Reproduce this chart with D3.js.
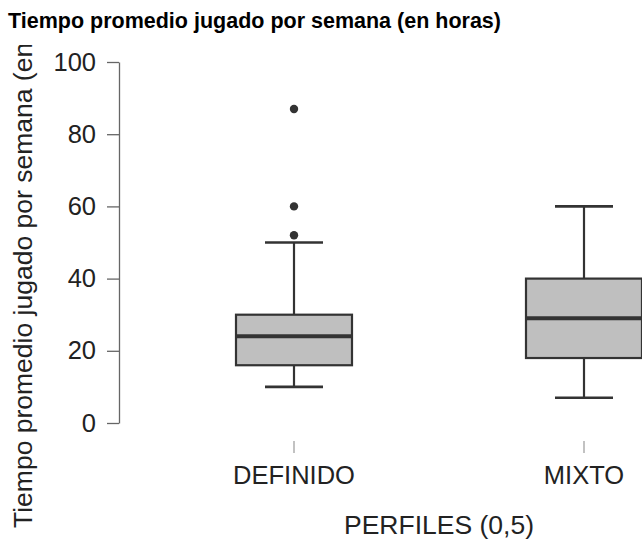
<!DOCTYPE html>
<html>
<head>
<meta charset="utf-8">
<script src="https://cdn.jsdelivr.net/npm/d3@7"></script>
<style>
  html, body { margin: 0; padding: 0; background: #fff; }
  svg { display: block; }
</style>
</head>
<body>
<svg id="chart" width="642" height="542"></svg>
<script>
// Weekly hours played, by profile group
const categories = ["DEFINIDO", "MIXTO"];
const lowerWhisker = [10, 7];
const q1 = [16, 18];
const median = [24, 29];
const q3 = [30, 40];
const upperWhisker = [50, 60];
const outliers = [[52, 60, 87], []];
const yTicks = [0, 20, 40, 60, 80, 100];

const titleText = "Tiempo promedio jugado por semana (en horas)";
const yLabel = "Tiempo promedio jugado por semana (en horas)";
const xLabel = "PERFILES (0,5)";

const boxes = categories.map((c, i) => ({
  cat: c, lo: lowerWhisker[i], q1: q1[i], med: median[i], q3: q3[i], hi: upperWhisker[i], out: outliers[i]
}));

const svg = d3.select("#chart");
const font = "'Liberation Sans', Arial, sans-serif";
const ink = "#333";

const y = d3.scaleLinear().domain([0, 100]).range([423, 62]);
const x = d3.scaleBand().domain(categories).range([149, 729]).paddingInner(0.6).paddingOuter(0.3);
const bw = x.bandwidth();
const cx = d => x(d) + bw / 2;

// Title
svg.append("text")
  .attr("x", 8).attr("y", 28)
  .attr("font-family", font).attr("font-weight", "bold").attr("font-size", 21.5)
  .attr("fill", "#000")
  .text(titleText);

// Y axis
const yAxis = svg.append("g")
  .attr("transform", "translate(119,0)")
  .call(d3.axisLeft(y).tickValues(yTicks).tickSize(12).tickPadding(11).tickSizeOuter(0));
yAxis.select(".domain").attr("stroke", "#666").attr("stroke-width", 1.3);
yAxis.selectAll(".tick line").attr("stroke", "#666").attr("stroke-width", 1.3);
yAxis.selectAll(".tick text")
  .attr("font-family", font).attr("font-size", 25.5).attr("fill", "#222");

// X axis (ticks only, no baseline)
const xAxis = svg.append("g")
  .attr("transform", "translate(0,441)")
  .call(d3.axisBottom(x).tickSize(12).tickPadding(13).tickSizeOuter(0));
xAxis.select(".domain").remove();
xAxis.selectAll(".tick line").attr("stroke", "#999").attr("stroke-width", 1.2);
xAxis.selectAll(".tick text")
  .attr("font-family", font).attr("font-size", 25.5).attr("fill", "#222");

// Axis titles
svg.append("text")
  .attr("x", 439).attr("y", 534)
  .attr("text-anchor", "middle")
  .attr("font-family", font).attr("font-size", 26.5).attr("fill", "#222")
  .text(xLabel);

svg.append("clipPath").attr("id", "ylab-clip")
  .append("rect").attr("x", 0).attr("y", 45).attr("width", 60).attr("height", 497);
svg.append("g").attr("clip-path", "url(#ylab-clip)")
  .append("text")
  .attr("transform", "translate(32,528) rotate(-90)")
  .attr("font-family", font).attr("font-size", 26.5).attr("fill", "#222")
  .text(yLabel);

// Boxplots
const g = svg.append("g").selectAll("g").data(boxes).join("g");

g.append("line")
  .attr("x1", d => cx(d.cat)).attr("x2", d => cx(d.cat))
  .attr("y1", d => y(d.hi)).attr("y2", d => y(d.q3))
  .attr("stroke", ink).attr("stroke-width", 2.2);
g.append("line")
  .attr("x1", d => cx(d.cat)).attr("x2", d => cx(d.cat))
  .attr("y1", d => y(d.q1)).attr("y2", d => y(d.lo))
  .attr("stroke", ink).attr("stroke-width", 2.2);
g.selectAll(".cap").data(d => [d.lo, d.hi].map(v => ({ cat: d.cat, v }))).join("line")
  .attr("class", "cap")
  .attr("x1", d => cx(d.cat) - bw / 4).attr("x2", d => cx(d.cat) + bw / 4)
  .attr("y1", d => y(d.v)).attr("y2", d => y(d.v))
  .attr("stroke", ink).attr("stroke-width", 2.6);

g.append("rect")
  .attr("x", d => x(d.cat)).attr("width", bw)
  .attr("y", d => y(d.q3)).attr("height", d => y(d.q1) - y(d.q3))
  .attr("fill", "#bfbfbf").attr("stroke", ink).attr("stroke-width", 2.2);

g.append("line")
  .attr("x1", d => x(d.cat)).attr("x2", d => x(d.cat) + bw)
  .attr("y1", d => y(d.med)).attr("y2", d => y(d.med))
  .attr("stroke", ink).attr("stroke-width", 4);

g.selectAll("circle").data(d => d.out.map(v => ({ cat: d.cat, v }))).join("circle")
  .attr("cx", d => cx(d.cat)).attr("cy", d => y(d.v))
  .attr("r", 4.2).attr("fill", ink);
</script>
</body>
</html>
